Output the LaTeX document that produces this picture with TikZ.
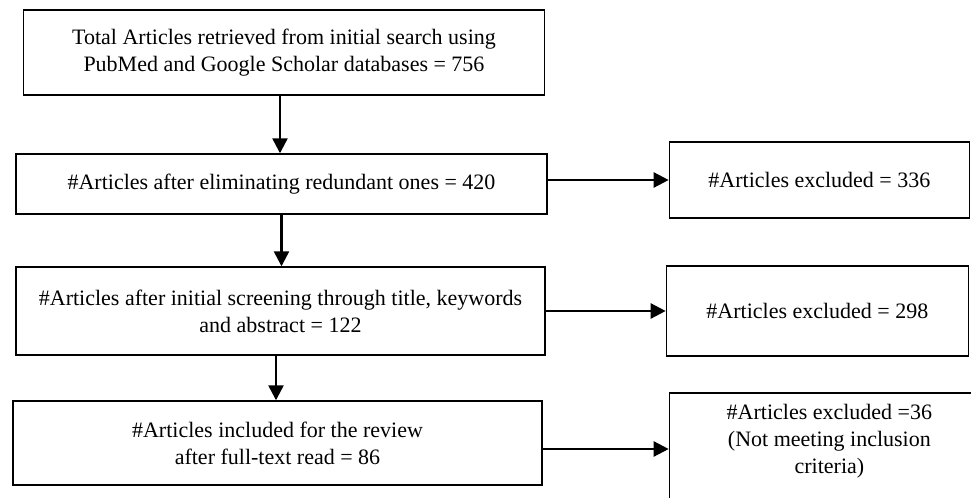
\documentclass[tikz,border=0pt]{standalone}
\usepackage{fontspec}
\setmainfont{Liberation Serif}
\usetikzlibrary{positioning, arrows.meta}
\begin{document}
\begin{tikzpicture}[x=0.5pt,y=-0.5pt,
  font=\fontsize{11pt}{13.5pt}\selectfont,
  stage/.style={draw, line width=0.7pt, align=center, inner sep=0pt},
  excluded/.style={stage, minimum width=150pt},
  flow/.style={line width=1.2pt, -{Triangle[length=7.5pt,width=7.5pt]}}]
  \useasboundingbox (0,0) rectangle (971,498);

  % main column
  \node[stage, minimum width=260.5pt, minimum height=42.5pt] (B1) at (284,52.5)
       {Total Articles retrieved from initial search using\\
        PubMed and Google Scholar databases = 756};
  \node[stage, minimum width=265.5pt, minimum height=30pt] (B2) at (281.5,184)
       {\#Articles after eliminating redundant ones = 420};
  \node[stage, minimum width=264.5pt, minimum height=44pt] (B3) at (280.5,311)
       {\#Articles after initial screening through title, keywords\\
        and abstract = 122};
  \node[stage, minimum width=264.5pt, minimum height=42pt] (B4) at (277.5,443)
       {\#Articles included for the review\\
        after full-text read = 86};

  % excluded boxes
  \node[excluded, minimum height=38pt, right=60.5pt of B2, yshift=2pt] (E1)
       {\#Articles excluded = 336};
  \node[excluded, minimum width=151pt, minimum height=45pt, right=60pt of B3] (E2)
       {\#Articles excluded = 298};
  \node[excluded, minimum width=160pt, minimum height=70pt,
        right=63pt of B4.north east, anchor=north west, yshift=4pt] (E3) {};
  \node[align=center, below=2.5pt of E3.north] (E3t)
       {\#Articles excluded =36\\
        (Not meeting inclusion\\
        criteria)};

  % arrows
  \draw[flow] ([xshift=-2pt]B1.south) -- ([xshift=-2pt]B1.south |- B2.north);
  \draw[flow] (B2.south) -- (B2.south |- B3.north);
  \draw[flow] ([xshift=-2.25pt]B3.south) -- ([xshift=-2.25pt]B3.south |- B4.north);
  \draw[flow] (B2.east |- E1.west) -- (E1.west);
  \draw[flow] (E2.west -| B3.east) -- (E2.west);
  \draw[flow] ([yshift=-3pt]B4.east) -- ([yshift=-3pt]B4.east -| E3.west);
\end{tikzpicture}
\end{document}
